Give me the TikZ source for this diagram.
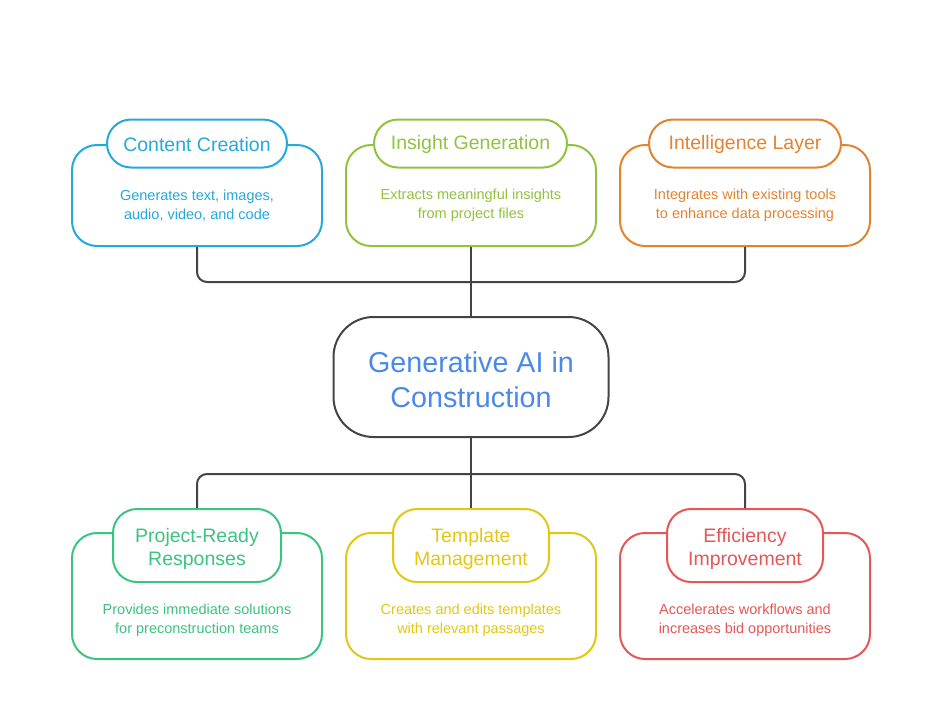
\documentclass[tikz,border=0pt]{standalone}
\usepackage{fontspec}
\setmainfont{Liberation Sans}
\definecolor{cblue}{HTML}{24A9DD}
\definecolor{igreen}{HTML}{92C240}
\definecolor{iorange}{HTML}{E3832F}
\definecolor{pgreen}{HTML}{3DC381}
\definecolor{tyellow}{HTML}{E3C714}
\definecolor{ered}{HTML}{E55757}
\definecolor{genblue}{HTML}{4B88E8}
\definecolor{wire}{HTML}{444444}

\begin{document}
\begin{tikzpicture}[x=1pt,y=-1pt]
		\tikzstyle{every node}+=[inner sep=0pt]
		\tikzstyle{outer}=[draw, fill=white, line width=2pt, rounded corners=25pt, minimum width=250pt]
		\tikzstyle{pill}=[draw, fill=white, line width=2pt, rounded corners=24pt]
		\tikzstyle{title}=[align=center, font=\fontsize{19.5}{23}\selectfont]
		\tikzstyle{desc}=[align=center, font=\fontsize{14.5}{19}\selectfont]
		\tikzstyle{conn}=[wire, line width=2pt, rounded corners=10pt]
		\useasboundingbox (0,0) rectangle (942,721);
		% top row
		\node [outer, draw=cblue, minimum height=101pt] (cbox) at (197,195.5) {};
		\node [pill, draw=cblue, minimum width=180pt, minimum height=48pt] (cpill) at (197,143.5) {};
		\node [title, text=cblue] (ctitle) at (197,144.5) {Content Creation};
		\node [desc, text=cblue] (cdesc) at (197,205.5) {Generates text, images,\\audio, video, and code};
		\node [outer, draw=igreen, minimum height=101pt] (ibox) at (471,195.5) {};
		\node [pill, draw=igreen, minimum width=193pt, minimum height=48pt] (ipill) at (470.5,143.5) {};
		\node [title, text=igreen] (ititle) at (470.5,144.5) {Insight Generation};
		\node [desc, text=igreen] (idesc) at (471,205.5) {Extracts meaningful insights\\from project files};
		\node [outer, draw=iorange, minimum height=101pt] (lbox) at (745,195.5) {};
		\node [pill, draw=iorange, minimum width=192pt, minimum height=48pt] (lpill) at (745,143.5) {};
		\node [title, text=iorange] (ltitle) at (745,144.5) {Intelligence Layer};
		\node [desc, text=iorange] (ldesc) at (745,205.5) {Integrates with existing tools\\to enhance data processing};
		% hub
		\node [draw=wire, line width=2pt, rounded corners=40pt, minimum width=275pt, minimum height=120pt] (gen) at (471,377) {};
		\node [align=center, text=genblue, font=\fontsize{28.7}{35}\selectfont] (gentext) at (471,380) {Generative AI in\\Construction};
		% bottom row
		\node [outer, draw=pgreen, minimum height=126pt] (pbox) at (197,596) {};
		\node [pill, draw=pgreen, minimum width=168pt, minimum height=73pt] (ppill) at (197,545.5) {};
		\node [title, text=pgreen] (ptitle) at (197,548.5) {Project-Ready\\Responses};
		\node [desc, text=pgreen] (pdesc) at (197,620) {Provides immediate solutions\\for preconstruction teams};
		\node [outer, draw=tyellow, minimum height=126pt] (tbox) at (471,596) {};
		\node [pill, draw=tyellow, minimum width=156pt, minimum height=73pt] (tpill) at (471,545.5) {};
		\node [title, text=tyellow] (ttitle) at (471,548.5) {Template\\Management};
		\node [desc, text=tyellow] (tdesc) at (471,620) {Creates and edits templates\\with relevant passages};
		\node [outer, draw=ered, minimum height=126pt] (ebox) at (745,596) {};
		\node [pill, draw=ered, minimum width=156pt, minimum height=73pt] (epill) at (745,545.5) {};
		\node [title, text=ered] (etitle) at (745,548.5) {Efficiency\\Improvement};
		\node [desc, text=ered] (edesc) at (745,620) {Accelerates workflows and\\increases bid opportunities};
		% connectors
		\coordinate (tbar) at (471,282);
		\coordinate (bbar) at (471,474);
		\draw [conn] (cbox.south) |- (tbar) -| (lbox.south);
		\draw [conn] (ibox.south) -- (gen.north);
		\draw [conn] (ppill.north) |- (bbar) -| (epill.north);
		\draw [conn] (gen.south) -- (tpill.north);
\end{tikzpicture}
\end{document}
